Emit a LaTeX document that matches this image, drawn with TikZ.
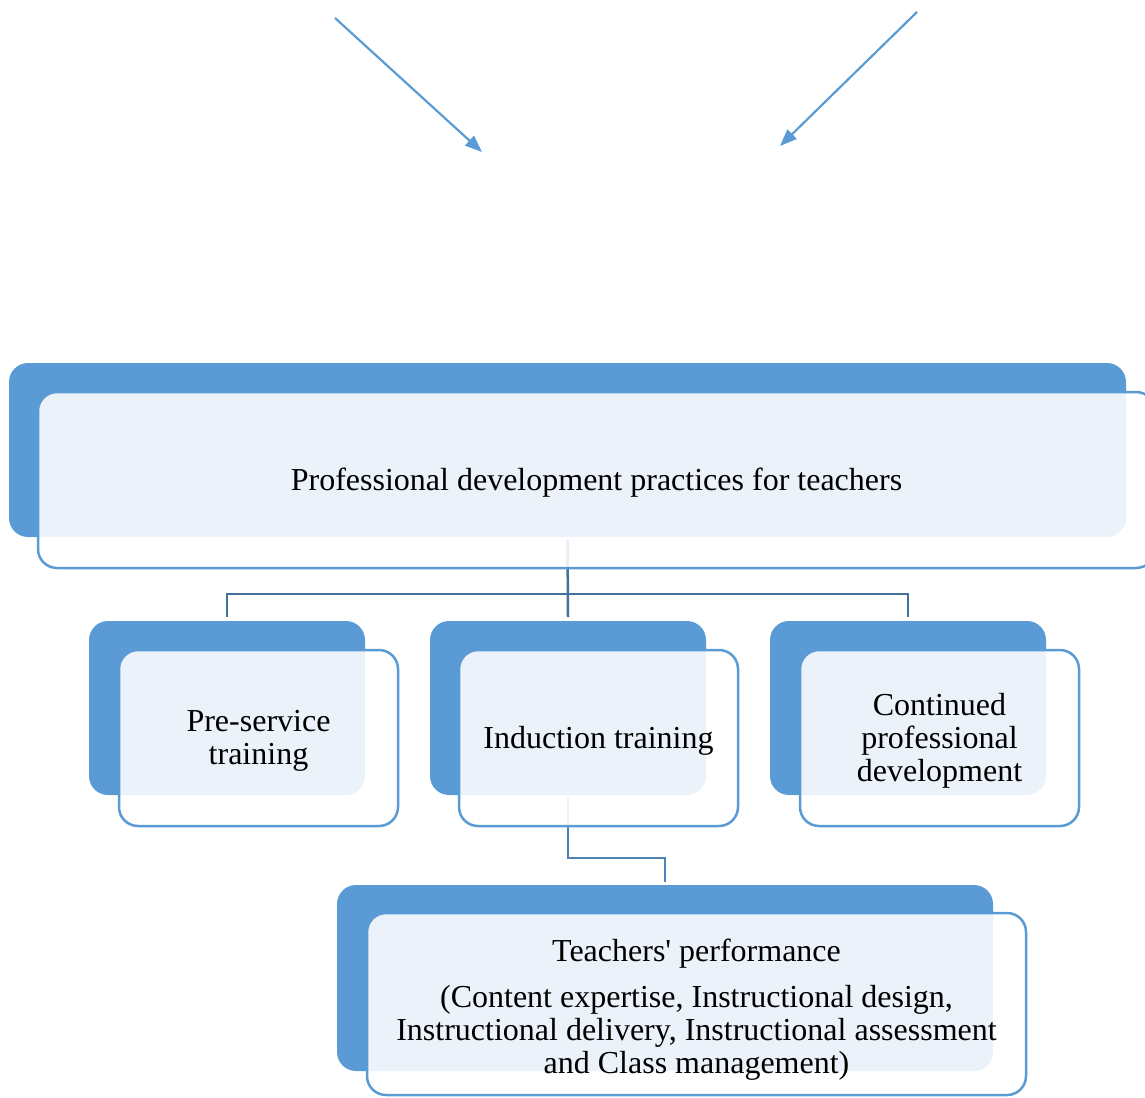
\documentclass[tikz,border=0pt]{standalone}
\usepackage{fontspec}
\setmainfont{Liberation Serif}[Ligatures=TeXOff]
\usetikzlibrary{arrows.meta}
\definecolor{dkblue}{HTML}{5B9BD5}
\definecolor{lnblue}{HTML}{41719C}
\begin{document}
\begin{tikzpicture}[x=1pt,y=-1pt,
  backbox/.style={draw=none, fill=dkblue, rounded corners=19pt, inner sep=0pt, outer sep=0pt, anchor=north west},
  frontbox/.style={draw=dkblue, line width=2.5pt, fill=white, fill opacity=0.88, rounded corners=19pt, inner sep=0pt, outer sep=0pt, anchor=north west},
  boxtext/.style={inner sep=0pt, align=center, font=\fontsize{32}{33}\selectfont},
  conn/.style={draw=lnblue, line width=2.5pt},
  conn2/.style={draw=dkblue!85!black, line width=2.5pt},
  arr/.style={draw=dkblue, line width=2.2pt, -{Triangle[length=17pt,width=13pt]}}]
\useasboundingbox (0,0) rectangle (1145,1097);
% arrows
\coordinate (a1s) at (335,18);
\coordinate (a1e) at (482,152);
\coordinate (a2s) at (917,12);
\coordinate (a2e) at (780,146);
\draw[arr] (a1s) -- (a1e);
\draw[arr] (a2s) -- (a2e);
% back boxes
\node[backbox, minimum width=1117pt, minimum height=174pt] (mainback) at (9,363) {};
\node[backbox, minimum width=276pt, minimum height=174pt] (preback) at (89,621) {};
\node[backbox, minimum width=276pt, minimum height=174pt] (induback) at (430,621) {};
\node[backbox, minimum width=276pt, minimum height=174pt] (conback) at (770,621) {};
\node[backbox, minimum width=656pt, minimum height=186pt] (botback) at (337,885) {};
% connectors
\draw[conn] ([yshift=-3pt]mainback.south) -- ([yshift=4pt]induback.north);
\draw[conn] ([yshift=4pt]preback.north) -- ++(0pt,23pt) -| ([yshift=4pt]conback.north);
\draw[conn2] ([yshift=-3pt]induback.south) -- ++(0pt,-60pt) -| ([yshift=3pt]botback.north);
% front boxes
\node[frontbox, minimum width=1117pt, minimum height=176pt] (mainfront) at (38,392) {};
\node[frontbox, minimum width=279pt, minimum height=176pt] (prefront) at (119,650) {};
\node[frontbox, minimum width=279pt, minimum height=176pt] (indufront) at (459,650) {};
\node[frontbox, minimum width=279pt, minimum height=176pt] (confront) at (800,650) {};
\node[frontbox, minimum width=659pt, minimum height=182pt] (botfront) at (367,913) {};
% texts
\node[boxtext] (maintxt) at ([yshift=-3pt]mainfront.center) {Professional development practices for teachers};
\node[boxtext] (pretxt) at ([yshift=-3pt]prefront.center) {Pre-service\\training};
\node[boxtext] (indutxt) at ([yshift=-2.5pt]indufront.center) {Induction training};
\node[boxtext] (contxt) at ([yshift=-2.5pt]confront.center) {Continued\\professional\\development};
\node[boxtext] (bottxt) at ([yshift=-6pt]botfront.center) {Teachers' performance\\[13pt](Content expertise, Instructional design,\\Instructional delivery, Instructional assessment\\and Class management)};
\end{tikzpicture}
\end{document}
